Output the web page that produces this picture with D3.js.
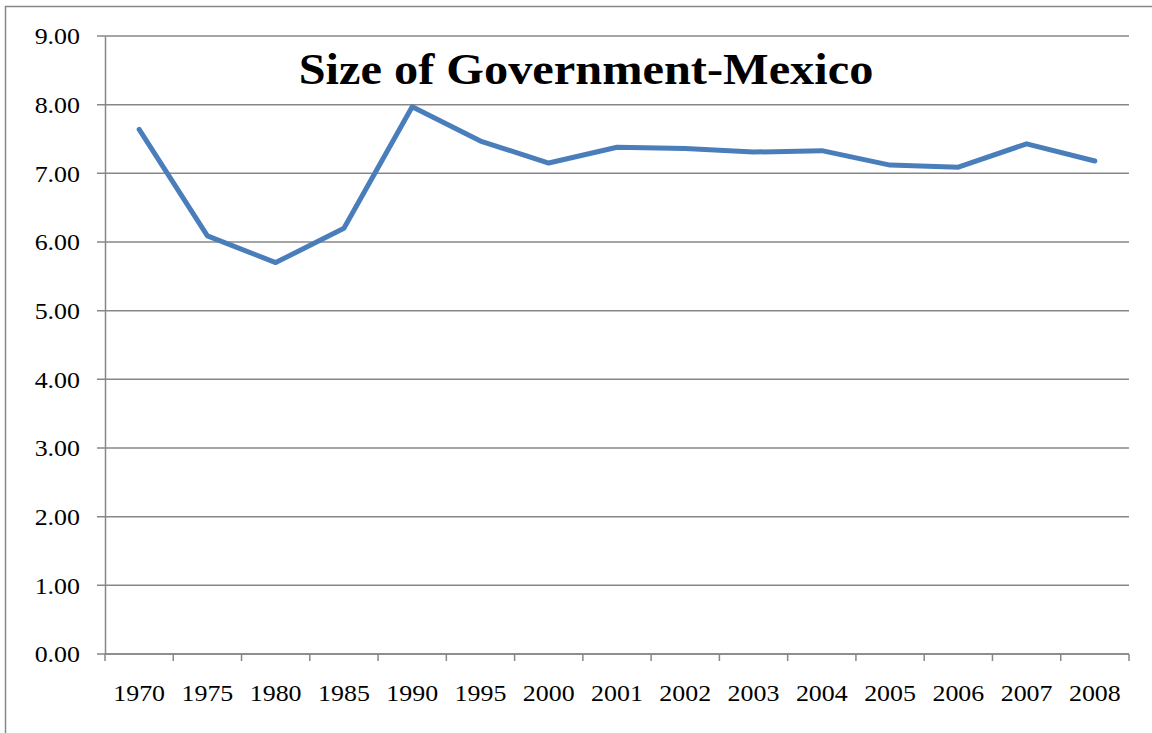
<!DOCTYPE html>
<html>
<head>
<meta charset="utf-8">
<script src="https://cdn.jsdelivr.net/npm/d3@7/dist/d3.min.js"></script>
<style>
  body { margin: 0; background: #fff; }
  svg { display: block; }
</style>
</head>
<body>
<svg id="chart" width="1152" height="733"></svg>
<script>
const categories = ["1970","1975","1980","1985","1990","1995","2000","2001","2002","2003","2004","2005","2006","2007","2008"];
const values = [7.64, 6.09, 5.70, 6.20, 7.97, 7.47, 7.15, 7.38, 7.36, 7.31, 7.33, 7.12, 7.09, 7.43, 7.18];
const yTicks = [0,1,2,3,4,5,6,7,8,9];
const title = "Size of Government-Mexico";

const svg = d3.select("#chart");
const margin = {left: 105, right: 1129, top: 36, bottom: 654};
const font = "'Liberation Serif', 'Times New Roman', serif";
const gridColor = "#878787";
const sx = 1.08; // horizontal stretch of the text in the reference

// outer frame
svg.append("line").attr("x1", 5).attr("x2", 1152).attr("y1", 6.5).attr("y2", 6.5)
  .attr("stroke", gridColor).attr("stroke-width", 1.5);
svg.append("line").attr("x1", 5.5).attr("x2", 5.5).attr("y1", 6).attr("y2", 733)
  .attr("stroke", gridColor).attr("stroke-width", 1.5);
// cut-off letter at top left
svg.append("text").attr("x", 4).attr("y", -8).text("g")
  .attr("font-family", font).attr("font-size", 24).attr("fill", "#000");

const x = d3.scaleBand().domain(categories).range([margin.left, margin.right]);
const y = d3.scaleLinear().domain([0, 9]).range([margin.bottom, margin.top]);

// gridlines
svg.append("g").selectAll("line").data(yTicks).join("line")
  .attr("x1", margin.left - 8).attr("x2", margin.right)
  .attr("y1", d => y(d)).attr("y2", d => y(d))
  .attr("stroke", gridColor).attr("stroke-width", 1.5);

// y axis
const yAxis = svg.append("g").attr("transform", `translate(${margin.left},0)`)
  .call(d3.axisLeft(y).tickValues(yTicks).tickFormat(d3.format(".2f")).tickSize(0).tickPadding(25));
yAxis.select(".domain").attr("stroke", gridColor).attr("stroke-width", 1.5);
yAxis.selectAll("text")
  .attr("x", -25 / sx)
  .attr("transform", `scale(${sx},1)`)
  .attr("font-family", font).attr("font-size", 24).attr("fill", "#000");

// x axis
const xAxis = svg.append("g").attr("transform", `translate(0,${margin.bottom})`);
xAxis.append("line").attr("x1", margin.left).attr("x2", margin.right)
  .attr("stroke", gridColor).attr("stroke-width", 1.5);
const boundaries = categories.map(c => x(c)).concat([x(categories[categories.length-1]) + x.bandwidth()]);
xAxis.selectAll("line.tk").data(boundaries).join("line").attr("class", "tk")
  .attr("x1", d => d).attr("x2", d => d).attr("y1", 0).attr("y2", 7)
  .attr("stroke", gridColor).attr("stroke-width", 1.5);
xAxis.selectAll("text").data(categories).join("text")
  .attr("transform", d => `translate(${x(d) + x.bandwidth()/2},47) scale(${sx},1)`)
  .attr("text-anchor", "middle")
  .attr("font-family", font).attr("font-size", 24).attr("fill", "#000")
  .text(d => d);

// line
const line = d3.line().x((d, i) => x(categories[i]) + x.bandwidth()/2).y(d => y(d));
svg.append("path").datum(values).attr("d", line)
  .attr("fill", "none").attr("stroke", "#4a7ebb").attr("stroke-width", 5)
  .attr("stroke-linejoin", "round").attr("stroke-linecap", "round");

// title
svg.append("text")
  .attr("transform", `translate(586,84) scale(1.075,1)`)
  .attr("text-anchor", "middle")
  .attr("font-family", font).attr("font-size", 45).attr("font-weight", "bold")
  .attr("fill", "#000").text(title);
</script>
</body>
</html>
